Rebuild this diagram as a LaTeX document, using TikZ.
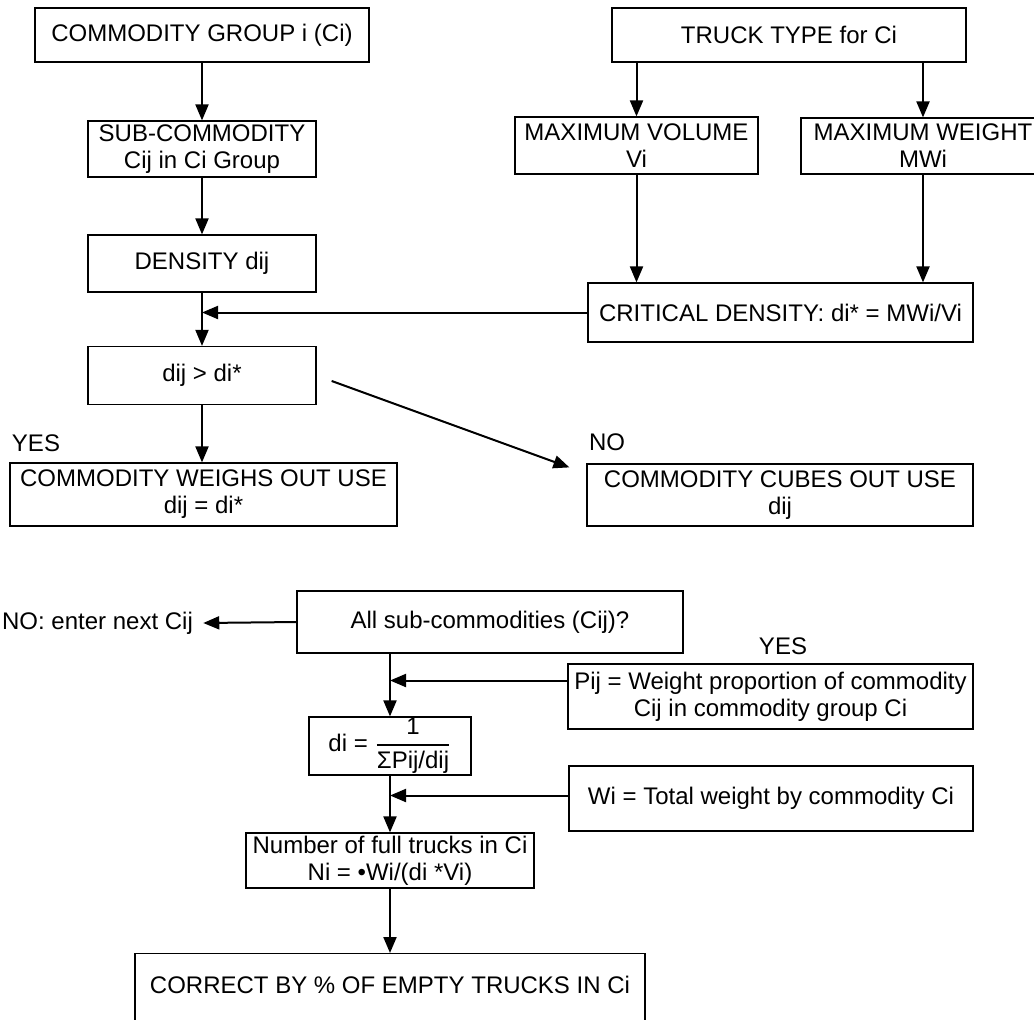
\documentclass[tikz,border=0pt]{standalone}
\usepackage{amsmath}
\usepackage{fontspec}
\setmainfont{Liberation Sans}
\usepackage{tikz}
\usetikzlibrary{arrows.meta}

\begin{document}
\begin{tikzpicture}[
        x=0.5pt, y=-0.5pt,
        font=\fontsize{12}{13.5}\selectfont,
        box/.style={rectangle, draw, line width=0.6pt, align=center, inner sep=0pt},
        lbl/.style={inner sep=0pt},
        arrow/.style={-{Triangle[length=8pt, width=6.5pt]}, line width=1pt}
    ]
        \useasboundingbox (0,0) rectangle (1034,1019);
        \clip (0,0) rectangle (1034,1019);

        \node[box, minimum width=167pt, minimum height=27pt] (group) at (202,35) {COMMODITY GROUP i (Ci)};
        \node[box, minimum width=177pt, minimum height=27pt] (truck) at (789,35) {TRUCK TYPE for Ci};
        \node[box, minimum width=114pt, minimum height=28pt] (sub) at (202,149) {SUB-COMMODITY\\Cij in Ci Group};
        \node[box, minimum width=114pt, minimum height=28.5pt] (dens) at (202,263.5) {DENSITY dij};
        \node[box, minimum width=121.5pt, minimum height=28.5pt] (maxvol) at (636.5,145.5) {MAXIMUM VOLUME\\Vi};
        \node[box, minimum width=122pt, minimum height=28pt] (maxwt) at (923,146) {MAXIMUM WEIGHT\\MWi};
        \node[box, minimum width=192.5pt, minimum height=29.5pt] (crit) at (780.5,312.5) {CRITICAL DENSITY: di* = MWi/Vi};
        \node[box, minimum width=114pt, minimum height=29pt] (dcomp) at (202,375.5) {dij > di*};
        \node[box, minimum width=193.5pt, minimum height=31.5pt] (weigh) at (203.5,494.5) {COMMODITY WEIGHS OUT USE\\dij = di*};
        \node[box, minimum width=193pt, minimum height=31pt] (cubes) at (780,495) {COMMODITY CUBES OUT USE\\dij};
        \node[lbl] (yesl) at (36,443) {YES};
        \node[lbl] (nol) at (607,442) {NO};

        \node[box, minimum width=193pt, minimum height=31pt] (allsub) at (490,622) {All sub-commodities (Cij)?};
        \node[lbl] (nonext) at (97.5,623) {NO: enter next Cij};
        \node[lbl] (yesr) at (783,646) {YES};
        \node[box, minimum width=202.5pt, minimum height=32.5pt] (pij) at (770.5,696.5) {Pij = Weight proportion of commodity\\Cij in commodity group Ci};
        \node[box, minimum width=81pt, minimum height=29pt] (di) at (390,746) {di = $\genfrac{}{}{0.9pt}{0}{\text{1}}{\text{ΣPij/dij}}$};
        \node[box, minimum width=202pt, minimum height=32.5pt] (wi) at (771,798.5) {Wi = Total weight by commodity Ci};
        \node[box, minimum width=144pt, minimum height=27.5pt] (num) at (390,860.5) {Number of full trucks in Ci\\Ni = •Wi/(di *Vi)};
        \node[box, minimum width=255pt, text height=20pt, text depth=25pt, anchor=north] (corr) at (390,953) {CORRECT BY \% OF EMPTY TRUCKS IN Ci};

        \coordinate (pijin) at ([yshift=8pt]pij.west);
        \coordinate (wiin) at ([yshift=1.5pt]wi.west);

        \draw[arrow] (group.south) -- (sub.north);
        \draw[arrow] (sub.south) -- (dens.north);
        \draw[arrow] (truck.south -| maxvol.north) -- (maxvol.north);
        \draw[arrow] (truck.south -| maxwt.north) -- (maxwt.north);
        \draw[arrow] (maxvol.south) -- (maxvol.south |- crit.north);
        \draw[arrow] (maxwt.south) -- (maxwt.south |- crit.north);
        \draw[arrow] (crit.west) -- (crit.west -| dens.south);
        \draw[arrow] (dens.south) -- (dcomp.north);
        \draw[arrow] (dcomp.south) -- (dcomp.south |- weigh.north);
        \draw[arrow, shorten <=8pt] (dcomp.east) -- ([shift={(-17,4)}]cubes.north west);

        \draw[arrow] (allsub.west) -- ([xshift=5pt]nonext.east);
        \draw[arrow] (allsub.south -| di.north) -- (di.north);
        \draw[arrow] (pijin) -- (pijin -| di.north);
        \draw[arrow] (wiin) -- (wiin -| di.north);
        \draw[arrow] (di.south) -- (num.north);
        \draw[arrow] (num.south) -- (corr.north);
    \end{tikzpicture}
\end{document}
